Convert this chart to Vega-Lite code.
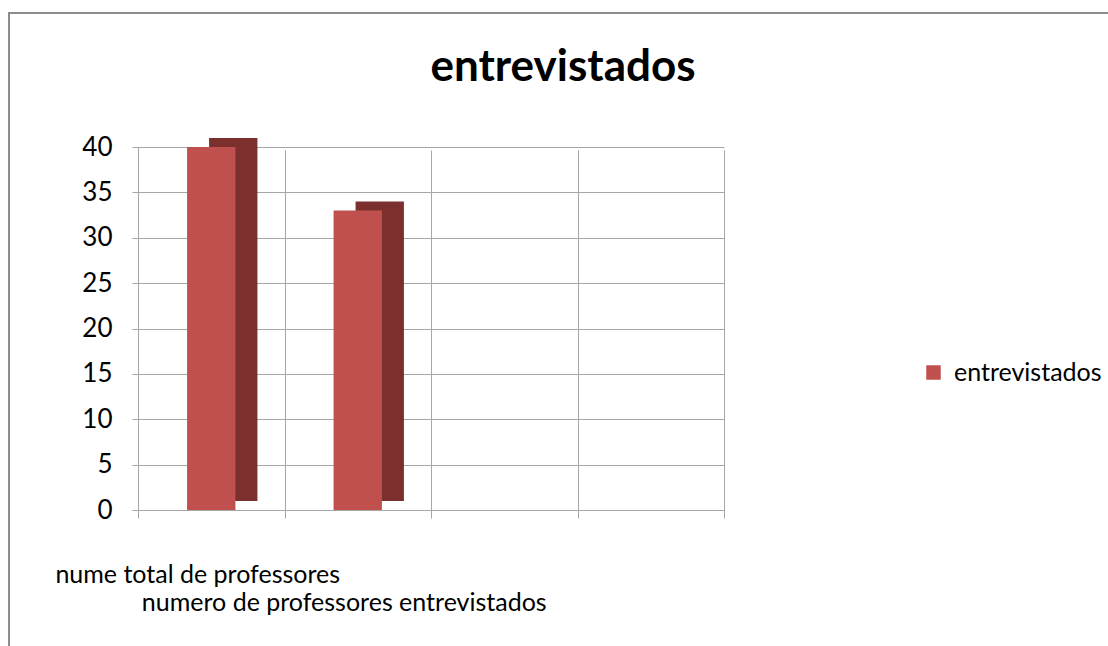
{
  "$schema": "https://vega.github.io/schema/vega-lite/v6.json",
  "autosize": {"type": "none"},
  "padding": {"left": 9, "top": 13, "right": 0, "bottom": 0},
  "width": 1100,
  "height": 634,
  "background": "white",
  "config": {
    "font": "Lato",
    "view": {"stroke": "#8c8c8c", "strokeWidth": 2}
  },
  "title": {
    "text": "entrevistados",
    "fontSize": 44,
    "fontWeight": "bold",
    "font": "Lato",
    "color": "#000000",
    "anchor": "middle",
    "baseline": "alphabetic",
    "offset": -67,
    "dy": 45,
    "dx": 4
  },
  "data": {
    "values": [
      {"categoria": "nume total de professores", "serie": "entrevistados", "valor": 40},
      {"categoria": "numero de professores entrevistados", "serie": "entrevistados", "valor": 33}
    ]
  },
  "encoding": {
    "x": {
      "field": "categoria",
      "type": "nominal",
      "sort": null,
      "scale": {
        "domain": ["nume total de professores", "numero de professores entrevistados", " ", "  "],
        "range": [129, 715],
        "paddingInner": 0,
        "paddingOuter": 0
      },
      "axis": {
        "title": null,
        "orient": "bottom",
        "offset": -137,
        "labelAngle": 0,
        "labelFontSize": 25,
        "labelColor": "#000000",
        "labelPadding": 64,
        "labelBaseline": "alphabetic",
        "labelLineHeight": 28,
        "labelOffset": -14,
        "labelLimit": 0,
        "labelExpr": "datum.value == 'numero de professores entrevistados' ? ['', datum.value] : datum.value",
        "grid": true,
        "gridColor": "#a6a6a6",
        "tickBand": "extent",
        "ticks": true,
        "tickColor": "#a6a6a6",
        "tickSize": 8,
        "domainColor": "#a6a6a6",
        "labelOverlap": false
      }
    },
    "y": {
      "field": "valor",
      "type": "quantitative",
      "scale": {"domain": [0, 40], "range": [497, 134]},
      "axis": {
        "title": null,
        "orient": "left",
        "offset": -129,
        "values": [0, 5, 10, 15, 20, 25, 30, 35, 40],
        "labelFontSize": 26,
        "labelColor": "#000000",
        "labelPadding": 20,
        "grid": true,
        "gridColor": "#a6a6a6",
        "tickColor": "#a6a6a6",
        "tickSize": 6,
        "domainColor": "#a6a6a6"
      }
    }
  },
  "layer": [
    {
      "data": {"values": [{"borda": "direita"}]},
      "mark": {"type": "rule", "color": "#a6a6a6", "strokeWidth": 1},
      "encoding": {
        "x": {"datum": "  ", "bandPosition": 1},
        "y": {"datum": 0},
        "y2": {"datum": 40}
      }
    },
    {
      "mark": {"type": "bar", "color": "#7b302e", "xOffset": 22, "yOffset": -9, "width": {"band": 0.33}},
      "encoding": {}
    },
    {
      "mark": {"type": "bar", "width": {"band": 0.33}},
      "encoding": {
        "color": {
          "field": "serie",
          "type": "nominal",
          "scale": {"range": ["#c0504d"]},
          "legend": {
            "title": null,
            "orient": "none",
            "legendX": 912,
            "legendY": 347,
            "labelFontSize": 25,
            "labelColor": "#000000",
            "symbolType": "square",
            "symbolSize": 210,
            "symbolStrokeWidth": 0,
            "labelOffset": 8
          }
        }
      }
    }
  ]
}
